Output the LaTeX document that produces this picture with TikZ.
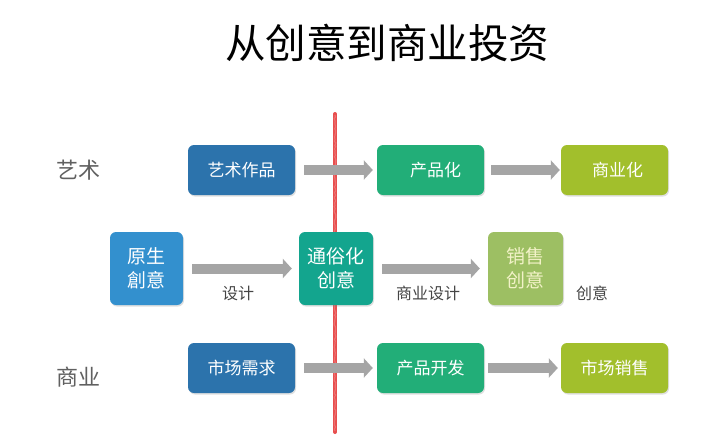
\documentclass[tikz,border=0pt]{standalone}
\usepackage{fontspec}
\setmainfont{Noto Sans CJK SC}
\usetikzlibrary{arrows.meta,shadows,decorations.pathmorphing}
\definecolor{dblue}{HTML}{2C73AC}
\definecolor{lblue}{HTML}{3390CE}
\definecolor{teal2}{HTML}{13A58E}
\definecolor{green2}{HTML}{22AE78}
\definecolor{lime2}{HTML}{A2BF2C}
\definecolor{olive2}{HTML}{9DBF63}
\definecolor{palefg}{HTML}{F2F2C8}
\definecolor{arrowgray}{HTML}{A5A5A5}
\definecolor{redline}{HTML}{E84E4E}
\definecolor{labgray}{HTML}{454545}
\definecolor{sidegray}{HTML}{606060}
\begin{document}
\begin{tikzpicture}[x=1pt,y=-1pt,
  box/.style={rounded corners=6pt, text=white, inner sep=0pt, align=center,
    drop shadow={shadow xshift=1pt,shadow yshift=-1.5pt,opacity=0.25}},
  widebox/.style={box, minimum width=107pt, minimum height=50pt, font=\fontsize{17}{20}\selectfont},
  sqbox/.style={box, minimum width=74pt, minimum height=73pt, font=\fontsize{19}{24}\selectfont},
  flow/.style={draw=arrowgray, line width=10pt, -{Triangle[length=9pt,width=19pt]}},
  lab/.style={text=labgray, font=\fontsize{16}{18}\selectfont},
  side/.style={text=sidegray, font=\fontsize{22}{24}\selectfont}]
\useasboundingbox (0,0) rectangle (704,442);
\fill[white] (0,0) rectangle (704,442);
% title
\node[font=\fontsize{40.5}{44}\selectfont, text=black] (title) at (387,43) {从创意到商业投资};
% red divider (crayon-like)
\draw[redline, line width=4pt, line cap=round] (335,114) -- (335,432);
\draw[redline!80!white, line width=1.2pt, decorate,
  decoration={random steps, segment length=2pt, amplitude=0.8pt}] (335,115) -- (335,431);
% side labels
\node[side] (art) at (78,170) {艺术};
\node[side] (biz) at (78,377) {商业};
% nodes
\node[widebox, fill=dblue] (a1) at (241.5,170) {艺术作品};
\node[widebox, fill=green2] (a2) at (430.5,170) {\hspace*{10pt}产品化};
\node[widebox, fill=lime2] (a3) at (614.5,170) {\hspace*{6pt}商业化};
\node[sqbox, fill=lblue, minimum width=73pt] (b1) at (146.5,268.5) {原生\\創意};
\node[sqbox, fill=teal2] (b2) at (336,268.5) {通俗化\\创意};
\node[sqbox, fill=olive2, minimum width=75pt, text=palefg] (b3) at (525.5,268.5) {销售\\创意};
\node[widebox, fill=dblue] (c1) at (241.5,368) {市场需求};
\node[widebox, fill=green2] (c2) at (430.5,368) {产品开发};
\node[widebox, fill=lime2] (c3) at (614.5,368) {市场销售};
% arrows
\draw[flow] ([xshift=9pt]a1.east) -- ([xshift=-4pt]a2.west);
\draw[flow] ([xshift=7pt]a2.east) -- ([xshift=-1pt]a3.west);
\draw[flow] ([xshift=9pt]b1.east) -- ([xshift=-7pt]b2.west);
\draw[flow] ([xshift=9pt]b2.east) -- ([xshift=-8pt]b3.west);
\draw[flow] ([xshift=9pt]c1.east) -- ([xshift=-4pt]c2.west);
\draw[flow] ([xshift=4pt]c2.east) -- ([xshift=-3pt]c3.west);
% arrow labels
\node[lab] (l1) at (238,293) {设计};
\node[lab] (l2) at (428,293) {商业设计};
\node[lab] (l3) at (592,293) {创意};
\end{tikzpicture}
\end{document}
